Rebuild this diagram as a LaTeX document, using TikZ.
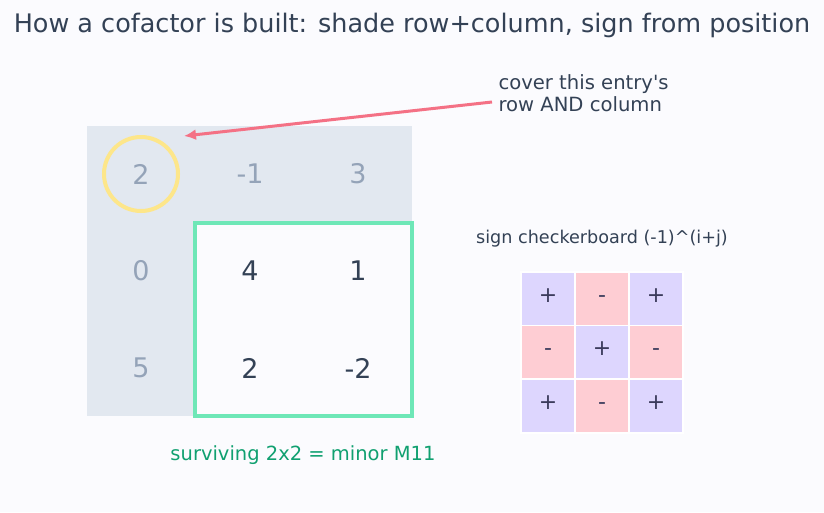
\documentclass[tikz,border=0pt]{standalone}
\usepackage{fontspec}
\setmainfont{DejaVu Sans}
\usetikzlibrary{arrows.meta}
\definecolor{bg}{HTML}{FBFBFE}
\definecolor{shadegray}{HTML}{E2E8F0}
\definecolor{mutetxt}{HTML}{94A3B8}
\definecolor{darktxt}{HTML}{334155}
\definecolor{keepgreen}{HTML}{6EE7B7}
\definecolor{labgreen}{HTML}{10A070}
\definecolor{ringyellow}{HTML}{FDE68A}
\definecolor{arrowrose}{HTML}{F47185}
\definecolor{plusc}{HTML}{DDD6FE}
\definecolor{minusc}{HTML}{FECDD3}
\definecolor{signtxt}{HTML}{3B3B5C}
\tikzset{
  muted/.style={text=mutetxt,font=\fontsize{27}{30}\selectfont},
  kept/.style={text=darktxt,font=\fontsize{27}{30}\selectfont},
  pluscell/.style={fill=plusc,draw=white,line width=1.5pt,minimum width=54pt,minimum height=53.7pt,inner sep=0pt,text=signtxt,font=\fontsize{22}{24}\selectfont,text height=0.62em,text depth=0pt},
  minuscell/.style={pluscell,fill=minusc},
}
\begin{document}
\begin{tikzpicture}[x=1pt,y=-1pt]
\fill[bg] (0,0) rectangle (824,512);
\useasboundingbox (0,0) rectangle (824,512);
\node[text=darktxt,font=\fontsize{25.5}{28}\selectfont] (title) at (412,25) {How a cofactor is built: shade row+column, sign from position};
% shaded row and column
\fill[shadegray] (87,126) rectangle (412,223);
\fill[shadegray] (87,223) rectangle (195,416);
% surviving minor box
\draw[keepgreen,line width=4pt,fill=bg] (195,223) rectangle (412,416);
% ring
\node[draw=ringyellow,line width=4pt,circle,minimum size=74pt,inner sep=0pt] (ring) at (141,174) {};
% entries
\node[muted] (a11) at (141,174) {2};
\node[muted] (a12) at (250,174) {-1};
\node[muted] (a13) at (358,174) {3};
\node[muted] (a21) at (141,271) {0};
\node[muted] (a31) at (141,368) {5};
\node[kept] (a22) at (250,271) {4};
\node[kept] (a23) at (358,271) {1};
\node[kept] (a32) at (250,368) {2};
\node[kept] (a33) at (358,368) {-2};
% annotation
\node[anchor=west,align=left,text=darktxt,font=\fontsize{19.6}{22}\selectfont] (note) at (495,93) {cover this entry\textquotesingle s\\row AND column};
\coordinate (tip) at (184,136);
\draw[arrowrose,line width=3pt,-{Latex[length=12pt,width=11pt]}] (note.west)++(-3,9) coordinate (tail) -- (tip);
% minor label
\node[text=labgreen,font=\fontsize{19.5}{22}\selectfont] (minorlab) at (303,455) {surviving 2x2 = minor M11};
% checkerboard
\node[text=darktxt,font=\fontsize{17.6}{20}\selectfont] (signlab) at (602,239) {sign checkerboard (-1)\^{}(i+j)};
\node[pluscell] (s11) at (548,299) {+};
\node[minuscell] (s12) at (602,299) {-};
\node[pluscell] (s13) at (656,299) {+};
\node[minuscell] (s21) at (548,352.5) {-};
\node[pluscell] (s22) at (602,352.5) {+};
\node[minuscell] (s23) at (656,352.5) {-};
\node[pluscell] (s31) at (548,406) {+};
\node[minuscell] (s32) at (602,406) {-};
\node[pluscell] (s33) at (656,406) {+};
\end{tikzpicture}
\end{document}
